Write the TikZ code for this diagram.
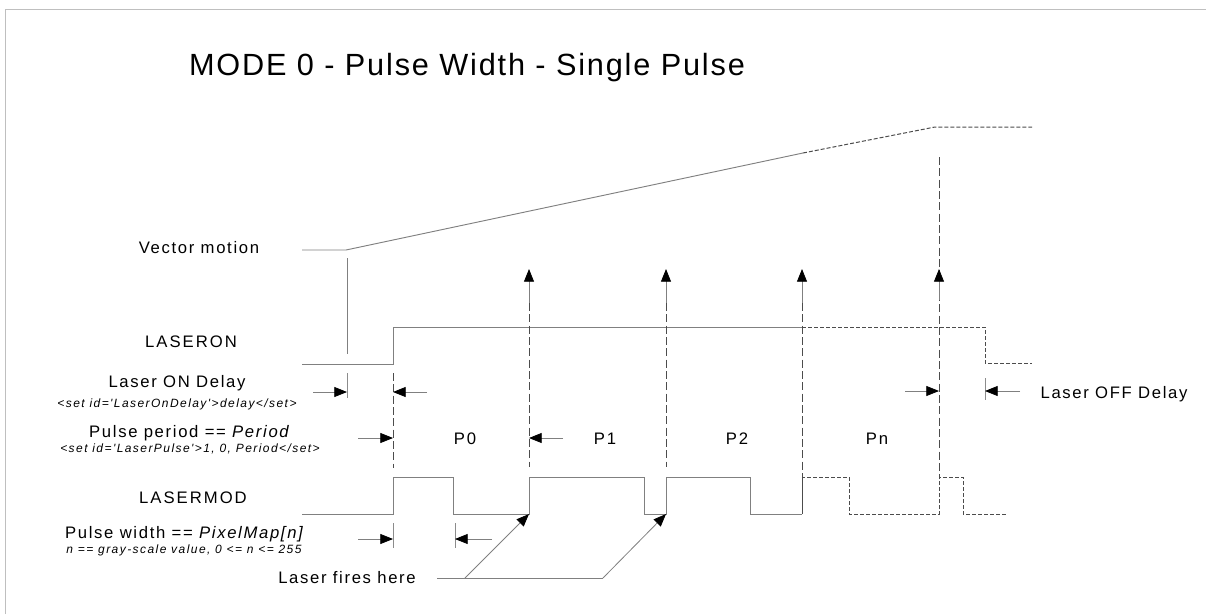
\documentclass[tikz,border=0pt]{standalone}
\usepackage{fontspec}
\setmainfont{Liberation Sans}
\newfontfamily\codefont{Liberation Sans}[Ligatures=TeXOff]
\usetikzlibrary{arrows.meta}
\newcommand{\lbl}[1]{\fontsize{12.5}{15}\selectfont\addfontfeatures{LetterSpace=#1}}
\newcommand{\sml}{\codefont\fontsize{9}{11}\selectfont\itshape\addfontfeatures{LetterSpace=12}}
\newcommand{\ttl}{\fontsize{23}{27}\selectfont\addfontfeatures{LetterSpace=6}}
\begin{document}
\begin{tikzpicture}[x=0.75pt,y=-0.75pt,
  wave/.style={draw=black!50,line width=0.7pt},
  wdash/.style={draw=black!70,line width=0.75pt,dash pattern=on 3pt off 1.5pt},
  vmk/.style={draw=black!70,line width=0.75pt,dash pattern=on 6pt off 2.5pt},
  tipline/.style={-{Triangle[length=9.5pt,width=7.5pt,color=black]},draw=black!50,line width=0.6pt},
  tick/.style={draw=black!45,line width=0.6pt},
  lab/.style={inner sep=0pt,anchor=base,font={\lbl{10}}},
  capl/.style={inner sep=0pt,anchor=base,font={\lbl{12}}},
  smalllab/.style={inner sep=0pt,anchor=base,font={\sml}},
]
\useasboundingbox (0,0) rectangle (1206,614);
% frame
\draw[draw=black!25,line width=0.75pt] (5,614) -- (5,9) -- (1206,9);

% title
\node[inner sep=0pt,anchor=base,font={\ttl}] (title) at (467,75) {MODE 0 - Pulse Width - Single Pulse};

% left labels
\node[lab] (vm) at (199,253) {Vector motion};
\node[capl] (lon) at (191,347) {LASERON};
\node[lab] (ondelay) at (177,387) {Laser ON Delay};
\node[smalllab] (ondelaycode) at (177,407) {<set id='LaserOnDelay'>delay</set>};
\node[lab] (period) at (190,437) {Pulse period == \textit{Period}};
\node[smalllab] (periodcode) at (190,452) {<set id='LaserPulse'>1, 0, Period</set>};
\node[capl] (lmod) at (193,503) {LASERMOD};
\node[lab] (pw) at (185,538) {Pulse width == \textit{PixelMap[n]}};
\node[smalllab] (pwcode) at (184,553) {n == gray-scale value, 0 <= n <= 255};
\node[lab] (fires) at (347,583) {Laser fires here};
\node[lab] (offdelay) at (1114,398) {Laser OFF Delay};

% period labels
\node[lab] (p0) at (465,444) {P0};
\node[lab] (p1) at (605,444) {P1};
\node[lab] (p2) at (737,444) {P2};
\node[lab] (pn) at (877,444) {Pn};

% vector motion
\draw[wave] (302,250) -- (346,250) -- (803,153);
\draw[wdash] (803,153) -- (935,127) -- (1032,127);
\draw[wave] (347,258) -- (347,354);
\draw[tick] (347,373) -- (347,398);

% LASERON
\draw[wave] (302,364) -- (393,364) -- (393,327) -- (802,327);
\draw[wdash] (802,327) -- (985,327) -- (985,363) -- (1032,363);

% LASERMOD
\draw[wave] (302,514) -- (393,514) -- (393,477) -- (453,477) -- (453,514) -- (529,514)
  -- (529,477) -- (644,477) -- (644,514) -- (666,514) -- (666,477) -- (750,477)
  -- (750,514) -- (802,514);
\draw[wdash] (802,514) -- (802,477) -- (849,477) -- (849,514) -- (939,514) -- (939,477)
  -- (963,477) -- (963,514) -- (1008,514);

% period markers
\draw[vmk] (393,373) -- (393,468);
\foreach \x in {529,666}{
  \draw[vmk] (\x,303) -- (\x,467);
  \draw[tipline] (\x,303) -- (\x,269);
}
\draw[vmk] (802,303) -- (802,514);
\draw[tipline] (802,303) -- (802,269);
\draw[vmk] (939,157) -- (939,477);
\draw[tipline] (939,300) -- (939,269);

% Laser ON delay arrows
\draw[tipline] (313,392) -- (347,392);
\draw[tipline] (427,392) -- (393,392);
% Pulse period arrows
\draw[tipline] (358,438) -- (393,438);
\draw[tipline] (563,438) -- (529,438);
% Pulse width arrows
\draw[tick] (393,523) -- (393,548);
\draw[tick] (455,523) -- (455,548);
\draw[tipline] (358,539) -- (393,539);
\draw[tipline] (492,539) -- (455,539);
% Laser OFF delay arrows
\draw[tick] (985,378) -- (985,400);
\draw[tipline] (905,391) -- (939,391);
\draw[tipline] (1020,391) -- (985,391);

% Laser fires here
\draw[wave] (437,578) -- (603,578);
\draw[tipline] (465,578) -- (529,514);
\draw[tipline] (603,578) -- (666,514);
\end{tikzpicture}
\end{document}
